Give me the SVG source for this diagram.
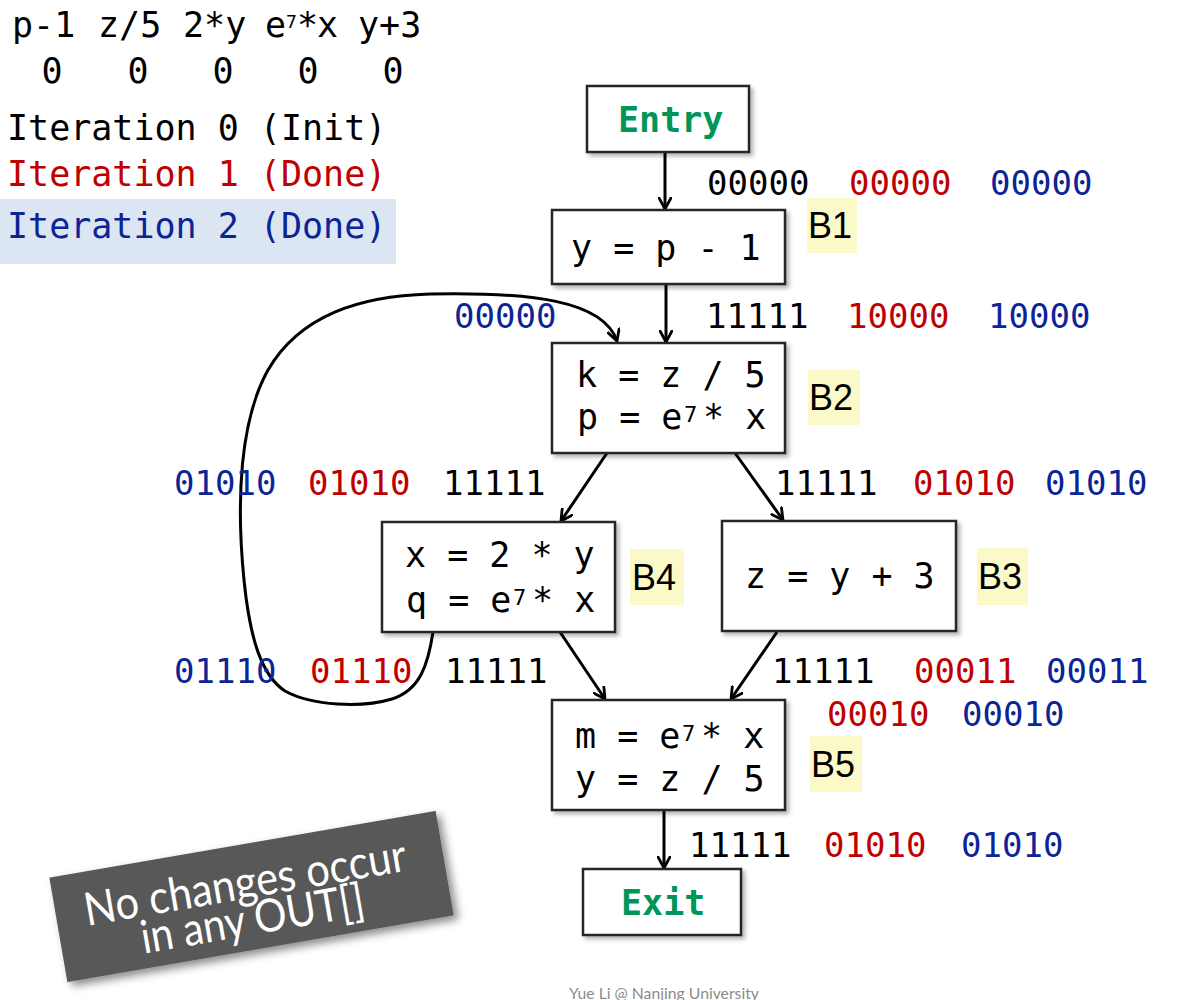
<svg xmlns="http://www.w3.org/2000/svg" width="1193" height="1000" viewBox="0 0 1193 1000">
<style>
.code{font-family:"DejaVu Sans Mono","Liberation Mono",monospace;font-size:35px;fill:#000}
.num{font-family:"DejaVu Sans Mono","Liberation Mono",monospace;font-size:34px}
.k{fill:#000}.r{fill:#c00000}.b{fill:#0b2496}
.box{fill:#fff;stroke:#262626;stroke-width:2.5}
.lab{font-family:"Liberation Sans",Arial,sans-serif;font-size:36px;fill:#000}
.hl{fill:#fcf9c8}
.term{font-family:"DejaVu Sans Mono","Liberation Mono",monospace;font-size:35px;font-weight:bold;fill:#00965a}
.edge{fill:none;stroke:#000;stroke-width:3}
.sup{font-size:22px}
</style>
<defs>
<filter id="sh" x="-10%" y="-10%" width="130%" height="130%">
<feDropShadow dx="3" dy="3" stdDeviation="2" flood-color="#000" flood-opacity="0.3"/>
</filter>
<filter id="sh2" x="-10%" y="-20%" width="130%" height="150%">
<feDropShadow dx="4" dy="5" stdDeviation="4" flood-color="#000" flood-opacity="0.45"/>
</filter>
<marker id="arr" viewBox="0 0 14 14" refX="12" refY="7" markerWidth="14" markerHeight="14" markerUnits="userSpaceOnUse" orient="auto">
<path d="M1,1 L12,7 L1,13" fill="none" stroke="#000" stroke-width="2.8" stroke-linecap="round" stroke-linejoin="round"/>
</marker>
</defs>
<rect width="1193" height="1000" fill="#fff"/>

<g id="legend">
<text class="code" y="37"><tspan x="12">p-1</tspan><tspan x="98">z/5</tspan><tspan x="183">2*y</tspan><tspan x="265">e</tspan><tspan x="286" y="28" font-size="18">7</tspan><tspan x="297" y="37">*</tspan><tspan x="317">x</tspan><tspan x="358">y+3</tspan></text>
<text class="code" y="83" text-anchor="middle"><tspan x="52">0</tspan><tspan x="138">0</tspan><tspan x="223">0</tspan><tspan x="308">0</tspan><tspan x="393">0</tspan></text>
<text class="code" x="7" y="140">Iteration 0 (Init)</text>
<text class="code r" x="7" y="186">Iteration 1 (Done)</text>
<rect x="0" y="199" width="396" height="65" fill="#dce6f2"/>
<text class="code b" x="7" y="238">Iteration 2 (Done)</text>
</g>

<g id="connectors">
<line class="edge" x1="665" y1="153" x2="665" y2="209" marker-end="url(#arr)"/>
<line class="edge" x1="666" y1="285" x2="666" y2="342" marker-end="url(#arr)"/>
<line class="edge" x1="607" y1="453" x2="561" y2="521" marker-end="url(#arr)"/>
<line class="edge" x1="735" y1="453" x2="783" y2="520" marker-end="url(#arr)"/>
<line class="edge" x1="560" y1="632" x2="605" y2="699" marker-end="url(#arr)"/>
<line class="edge" x1="777" y1="632" x2="731" y2="699" marker-end="url(#arr)"/>
<line class="edge" x1="664" y1="810" x2="664" y2="868" marker-end="url(#arr)"/>
<path class="edge" d="M433 632 C428 665,420 690,392 699 C362 708,312 706,285 691 C262 676,250 640,244 580 C236 500,240 420,268 370 C300 315,360 296,430 294 C530 292,603 300,617 341" marker-end="url(#arr)"/>
</g>

<g id="entry">
<rect class="box" x="587" y="86" width="162" height="66" filter="url(#sh)"/>
<text class="term" x="618" y="132">Entry</text>
</g>
<g id="B1">
<rect class="box" x="552" y="210" width="233" height="74" filter="url(#sh)"/>
<text class="code" x="571" y="260">y = p - 1</text>
<rect class="hl" x="807" y="198" width="50" height="55"/>
<text class="lab" x="808" y="238">B1</text>
</g>
<g id="B2">
<rect class="box" x="552" y="343" width="233" height="110" filter="url(#sh)"/>
<text class="code" x="576" y="387">k = z / 5</text>
<text class="code" x="577" y="429">p = e<tspan class="sup" x="684" y="422">7</tspan><tspan x="703" y="429">* x</tspan></text>
<rect class="hl" x="808" y="370" width="52" height="55"/>
<text class="lab" x="809" y="410">B2</text>
</g>
<g id="B4">
<rect class="box" x="382" y="522" width="233" height="110" filter="url(#sh)"/>
<text class="code" x="405" y="567">x = 2 * y</text>
<text class="code" x="406" y="612">q = e<tspan class="sup" x="513" y="605">7</tspan><tspan x="532" y="612">* x</tspan></text>
<rect class="hl" x="630" y="549" width="54" height="56"/>
<text class="lab" x="632" y="590">B4</text>
</g>
<g id="B3">
<rect class="box" x="722" y="521" width="234" height="110" filter="url(#sh)"/>
<text class="code" x="745" y="588">z = y + 3</text>
<rect class="hl" x="977" y="548" width="51" height="57"/>
<text class="lab" x="978" y="589">B3</text>
</g>
<g id="B5">
<rect class="box" x="552" y="700" width="233" height="110" filter="url(#sh)"/>
<text class="code" x="575" y="748">m = e<tspan class="sup" x="682" y="741">7</tspan><tspan x="701" y="748">* x</tspan></text>
<text class="code" x="575" y="791">y = z / 5</text>
<rect class="hl" x="810" y="736" width="52" height="56"/>
<text class="lab" x="811" y="777">B5</text>
</g>
<g id="exit">
<rect class="box" x="583" y="869" width="158" height="66" filter="url(#sh)"/>
<text class="term" x="621" y="915">Exit</text>
</g>

<g id="values">
<text class="num" y="195"><tspan class="k" x="707">00000</tspan><tspan class="r" x="849">00000</tspan><tspan class="b" x="990">00000</tspan></text>
<text class="num" y="328"><tspan class="b" x="454">00000</tspan><tspan class="k" x="706">11111</tspan><tspan class="r" x="847">10000</tspan><tspan class="b" x="988">10000</tspan></text>
<text class="num" y="495"><tspan class="b" x="174">01010</tspan><tspan class="r" x="308">01010</tspan><tspan class="k" x="443">11111</tspan><tspan class="k" x="775">11111</tspan><tspan class="r" x="913">01010</tspan><tspan class="b" x="1045">01010</tspan></text>
<text class="num" y="683"><tspan class="b" x="174">01110</tspan><tspan class="r" x="310">01110</tspan><tspan class="k" x="445">11111</tspan><tspan class="k" x="772">11111</tspan><tspan class="r" x="914">00011</tspan><tspan class="b" x="1046">00011</tspan></text>
<text class="num" y="726"><tspan class="r" x="827">00010</tspan><tspan class="b" x="962">00010</tspan></text>
<text class="num" y="857"><tspan class="k" x="689">11111</tspan><tspan class="r" x="824">01010</tspan><tspan class="b" x="961">01010</tspan></text>
</g>

<g id="note" transform="translate(251.5 896.5) rotate(-9.8)">
<rect x="-196" y="-53" width="392" height="106" fill="#595959" filter="url(#sh2)"/>
<text x="-4" y="1" text-anchor="middle" font-family="Lato,'Open Sans',sans-serif" font-size="46" fill="#fff" textLength="326" lengthAdjust="spacingAndGlyphs">No changes occur</text>
<text x="-3" y="38" text-anchor="middle" font-family="Lato,'Open Sans',sans-serif" font-size="46" fill="#fff" textLength="226" lengthAdjust="spacingAndGlyphs">in any OUT[]</text>
</g>

<text x="569" y="999" font-family="Lato,'Liberation Sans',sans-serif" font-size="16" fill="#8c8c8c" textLength="190" lengthAdjust="spacingAndGlyphs">Yue Li @ Nanjing University</text>
</svg>
